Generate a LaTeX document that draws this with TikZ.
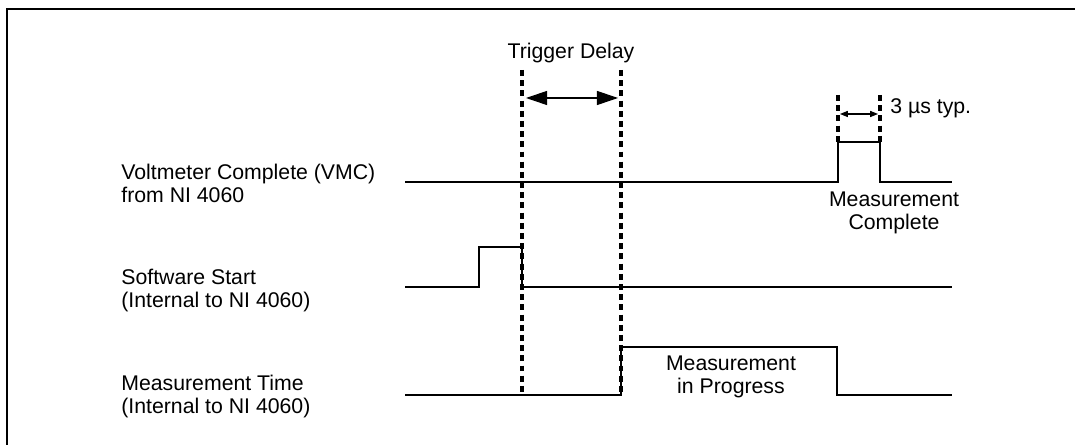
\documentclass[tikz,border=0pt]{standalone}
\usepackage{fontspec}
\setmainfont{Liberation Sans}
\usetikzlibrary{arrows.meta}

\begin{document}
\begin{tikzpicture}[
  x=0.02cm, y=-0.02cm,
  font=\fontsize{12.1}{13.6}\selectfont,
  sigline/.style={draw=black, line width=0.9pt},
  markline/.style={draw=black, line width=1.8pt, dash pattern=on 3.4pt off 2.4pt},
  spanarrow/.style={{Triangle[length=12pt,width=8pt]}-{Triangle[length=12pt,width=8pt]}, line width=0.6pt},
  tinyarrow/.style={{Triangle[length=4.5pt,width=3.5pt]}-{Triangle[length=4.5pt,width=3.5pt]}, line width=0.6pt},
  siglabel/.style={anchor=base west, align=left, inner sep=0pt},
  note/.style={anchor=base, align=center, inner sep=0pt}
]
  \useasboundingbox (0,0) rectangle (1075,445);
  \draw[line width=1.2pt] (7,445) -- (7,9) -- (1075,9);

  \node[siglabel] (vmclabel) at (121,203) {Voltmeter Complete (VMC)\\from NI 4060};
  \node[siglabel] (swlabel) at (121,308) {Software Start\\(Internal to NI 4060)};
  \node[siglabel] (mtlabel) at (121,414) {Measurement Time\\(Internal to NI 4060)};

  \draw[sigline] (405,182) -- (838,182) -- (838,142) -- (880,142) -- (880,182) -- (952,182);
  \draw[sigline] (405,287) -- (479,287) -- (479,247) -- (522,247) -- (522,287) -- (952,287);
  \draw[sigline] (405,395) -- (621,395) -- (621,347) -- (837,347) -- (837,395) -- (952,395);

  \coordinate (startA) at (522,70);
  \coordinate (endA) at (522,395);
  \coordinate (startB) at (621,70);
  \coordinate (endB) at (621,395);
  \coordinate (startC) at (838,95);
  \coordinate (endC) at (838,142);
  \coordinate (startD) at (880,95);
  \coordinate (endD) at (880,142);
  \draw[markline] (startA) -- (endA);
  \draw[markline] (startB) -- (endB);
  \draw[markline] (startC) -- (endC);
  \draw[markline] (startD) -- (endD);

  \coordinate (delayL) at (526,98);
  \coordinate (delayR) at (618,98);
  \draw[spanarrow] (delayL) -- (delayR);
  \coordinate (pulseL) at (840,114);
  \coordinate (pulseR) at (878,114);
  \draw[tinyarrow] (pulseL) -- (pulseR);

  \node[anchor=base, inner sep=0pt] (delaytext) at (571,59) {Trigger Delay};
  \node[anchor=base west, inner sep=0pt] (typtext) at (890,114) {3 µs typ.};
  \node[note] (donetext) at (894,230) {Measurement\\Complete};
  \node[note] (progtext) at (731,394) {Measurement\\in Progress};
\end{tikzpicture}
\end{document}
